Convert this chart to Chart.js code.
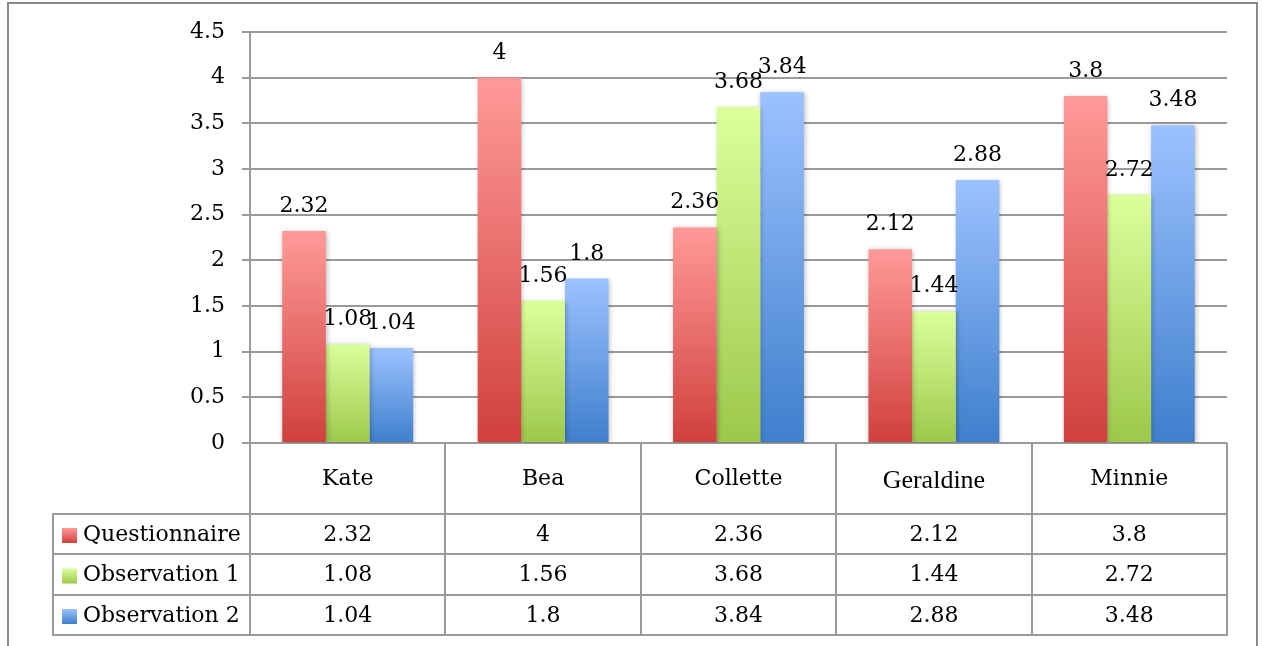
<!DOCTYPE html>
<html>
<head>
<meta charset="utf-8">
<script src="https://cdn.jsdelivr.net/npm/chart.js@4.4.1/dist/chart.umd.min.js"></script>
<style>
  html, body { margin: 0; padding: 0; background: #fff; }
  canvas { display: block; }
</style>
</head>
<body>
<canvas id="chart" width="1262" height="646"></canvas>
<script>
// data
const categories = ["Kate", "Bea", "Collette", "Geraldine", "Minnie"];
const seriesNames = ["Questionnaire", "Observation 1", "Observation 2"];
const questionnaire = [2.32, 4, 2.36, 2.12, 3.8];
const observation1 = [1.08, 1.56, 3.68, 1.44, 2.72];
const observation2 = [1.04, 1.8, 3.84, 2.88, 3.48];
const yTicks = [0, 0.5, 1, 1.5, 2, 2.5, 3, 3.5, 4, 4.5];

const FONT = "'DejaVu Serif', 'Liberation Serif', serif";
const GRID = "#9a9a9a";
const colors = [
  { top: "#ff9a98", bottom: "#d0403c" },
  { top: "#dcff9c", bottom: "#9cc84a" },
  { top: "#9cc2ff", bottom: "#3e7fcc" },
];

function barGradient(context) {
  const chart = context.chart;
  const c = colors[context.datasetIndex];
  const yScale = chart.scales.y;
  if (!chart.chartArea || !yScale || context.parsed == null) return c.bottom;
  const top = yScale.getPixelForValue(context.parsed.y);
  const base = yScale.getPixelForValue(0);
  const g = chart.ctx.createLinearGradient(0, top, 0, base);
  g.addColorStop(0, c.top);
  g.addColorStop(1, c.bottom);
  return g;
}

const rowLines = [443, 514, 554, 595, 635];
const tableLeft = 53;

const framePlugin = {
  id: "frame",
  beforeDraw(chart) {
    const ctx = chart.ctx;
    ctx.save();
    ctx.strokeStyle = "#8a8a8a";
    ctx.lineWidth = 2;
    ctx.beginPath();
    ctx.moveTo(8, 646);
    ctx.lineTo(8, 3);
    ctx.lineTo(1257, 3);
    ctx.lineTo(1257, 646);
    ctx.stroke();
    ctx.restore();
  },
  beforeDatasetsDraw(chart) {
    const ctx = chart.ctx;
    ctx.save();
    ctx.shadowColor = "rgba(0,0,0,0.28)";
    ctx.shadowBlur = 5;
    ctx.shadowOffsetX = 1;
    ctx.shadowOffsetY = 1;
  },
  afterDatasetsDraw(chart) {
    const ctx = chart.ctx;
    ctx.restore();

    // value labels above the bars
    ctx.save();
    ctx.font = "22px " + FONT;
    ctx.fillStyle = "#000";
    ctx.textAlign = "center";
    ctx.textBaseline = "alphabetic";
    chart.data.datasets.forEach((ds, i) => {
      chart.getDatasetMeta(i).data.forEach((bar, j) => {
        ctx.fillText(String(ds.data[j]), bar.x, bar.y - 19);
      });
    });
    ctx.restore();
  },
  afterDraw(chart) {
    const ctx = chart.ctx;
    const x = chart.scales.x;
    const area = chart.chartArea;
    const colW = (area.right - area.left) / categories.length;
    ctx.save();
    ctx.strokeStyle = GRID;
    ctx.lineWidth = 2;
    ctx.beginPath();
    // column borders
    for (let i = 0; i <= categories.length; i++) {
      const px = Math.round(area.left + i * colW);
      ctx.moveTo(px, area.bottom);
      ctx.lineTo(px, rowLines[rowLines.length - 1] + 1);
    }
    ctx.moveTo(tableLeft, rowLines[1]);
    ctx.lineTo(tableLeft, rowLines[rowLines.length - 1] + 1);
    // row borders
    for (let r = 1; r < rowLines.length; r++) {
      ctx.moveTo(tableLeft - 1, rowLines[r]);
      ctx.lineTo(area.right + 1, rowLines[r]);
    }
    ctx.stroke();

    // table body
    ctx.font = "22px " + FONT;
    ctx.fillStyle = "#000";
    ctx.textBaseline = "middle";
    chart.data.datasets.forEach((ds, i) => {
      const yc = (rowLines[i + 1] + rowLines[i + 2]) / 2 + 1;
      const c = colors[i];
      const g = ctx.createLinearGradient(0, yc - 7, 0, yc + 8);
      g.addColorStop(0, c.top);
      g.addColorStop(1, c.bottom);
      ctx.fillStyle = g;
      ctx.fillRect(62, yc - 7, 15, 15);
      ctx.fillStyle = "#000";
      ctx.textAlign = "left";
      ctx.fillText(ds.label, 83, yc);
      ctx.textAlign = "center";
      ds.data.forEach((v, j) => {
        ctx.fillText(String(v), x.getPixelForValue(j), yc);
      });
    });
    ctx.restore();
  },
};

new Chart(document.getElementById("chart"), {
  type: "bar",
  data: {
    labels: categories,
    datasets: [
      { label: seriesNames[0], data: questionnaire },
      { label: seriesNames[1], data: observation1 },
      { label: seriesNames[2], data: observation2 },
    ].map((ds) => ({
      ...ds,
      backgroundColor: barGradient,
      borderWidth: 0,
      categoryPercentage: 0.67,
      barPercentage: 1,
    })),
  },
  options: {
    responsive: false,
    animation: false,
    devicePixelRatio: 1,
    layout: {
      padding: { left: 10, top: 32, right: 35, bottom: 0 },
    },
    plugins: {
      legend: { display: false },
      tooltip: { enabled: false },
    },
    scales: {
      x: {
        grid: { display: false, drawTicks: false },
        border: { display: false },
        afterFit: (scale) => {
          scale.height = 203;
        },
        ticks: {
          padding: 23,
          color: "#000",
          font: (ctx) =>
            categories[ctx.index] === "Geraldine"
              ? { family: "'Liberation Serif', serif", size: 26 }
              : { family: FONT, size: 22 },
        },
      },
      y: {
        min: 0,
        max: 4.5,
        afterFit: (scale) => {
          scale.width = 240;
        },
        afterBuildTicks: (scale) => {
          scale.ticks = yTicks.map((v) => ({ value: v }));
        },
        grid: {
          color: GRID,
          lineWidth: 2,
          tickLength: 8,
          drawTicks: true,
        },
        border: { display: true, color: GRID, width: 2 },
        ticks: {
          padding: 17,
          color: "#000",
          font: { family: FONT, size: 22 },
          callback: (value) => String(value),
        },
      },
    },
  },
  plugins: [framePlugin],
});
</script>
</body>
</html>
